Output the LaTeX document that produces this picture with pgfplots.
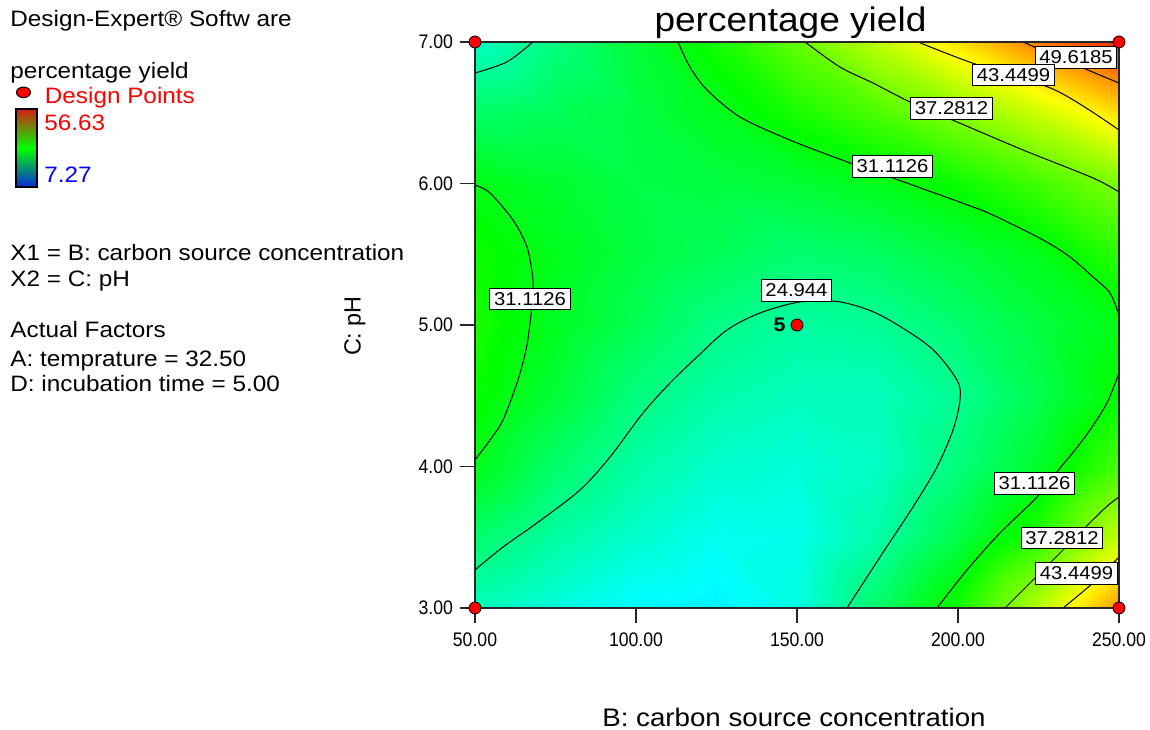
\documentclass[border=0pt]{standalone}
\usepackage{pgfplots}
\usepackage{pgfplotstable}
\pgfplotsset{compat=1.18}
\usepackage{fontspec}
\setmainfont{Liberation Sans}[FakeStretch=1.09]
\newfontfamily\tickfont{Liberation Sans}[FakeStretch=0.9]
\newfontfamily\plainfont{Liberation Sans}

\pgfplotstableread{
x y z
50 3.0 23.0
75 3.0 21.3
100 3.0 19.4
125 3.0 18.9
150 3.0 21.0
175 3.0 27.0
200 3.0 33.0
225 3.0 40.9
250 3.0 49.4
50 3.5 26.8
75 3.5 24.1
100 3.5 22.0
125 3.5 20.4
150 3.5 20.6
175 3.5 23.8
200 3.5 28.5
225 3.5 34.1
250 3.5 41.4
50 4.0 30.8
75 4.0 26.8
100 4.0 23.9
125 4.0 22.0
150 4.0 21.4
175 4.0 22.5
200 4.0 26.0
225 4.0 29.9
250 4.0 35.4
50 4.5 32.3
75 4.5 29.3
100 4.5 25.9
125 4.5 23.8
150 4.5 22.8
175 4.5 22.9
200 4.5 24.9
225 4.5 28.2
250 4.5 32.0
50 5.0 33.1
75 5.0 30.4
100 5.0 27.9
125 5.0 25.5
150 5.0 24.2
175 5.0 24.7
200 5.0 26.6
225 5.0 28.9
250 5.0 30.9
50 5.5 32.6
75 5.5 30.6
100 5.5 28.9
125 5.5 27.8
150 5.5 26.6
175 5.5 27.3
200 5.5 28.9
225 5.5 30.7
250 5.5 34.0
50 6.0 31.0
75 6.0 29.8
100 6.0 28.6
125 6.0 28.9
150 6.0 29.5
175 6.0 30.7
200 6.0 32.5
225 6.0 35.2
250 6.0 38.1
50 6.5 27.1
75 6.5 27.8
100 6.5 28.8
125 6.5 30.5
150 6.5 33.1
175 6.5 35.6
200 6.5 38.5
225 6.5 41.8
250 6.5 45.9
50 7.0 22.5
75 7.0 25.9
100 7.0 29.3
125 7.0 33.0
150 7.0 36.9
175 7.0 41.2
200 7.0 45.8
225 7.0 50.6
250 7.0 54.5
}\surfdata

\tikzset{clab/.style={draw=black, fill=white, line width=0.5pt, inner sep=2.1pt, font=\fontsize{9.3}{10}\selectfont}}

\begin{document}
\begin{tikzpicture}
\useasboundingbox (0pt,0pt) rectangle (575pt,364.5pt);
\begin{axis}[
  at={(237.5pt,60.5pt)}, anchor=south west,
  scale only axis, width=322pt, height=283pt,
  view={0}{90},
  xmin=50, xmax=250, ymin=3, ymax=7,
  clip=false,
  axis on top,
  xtick={50,100,150,200,250}, ytick={3,4,5,6,7}, ztick=\empty,
  tick pos=left,
  tick align=outside, major tick length=7.5pt,
  tick style={black!85, line width=0.6pt},
  axis line style={black!85, line width=0.7pt},
  ticklabel style={font=\tickfont\fontsize{9.8}{10}\selectfont},
  xticklabel style={yshift=-1.2pt},
  /pgf/number format/fixed,
  /pgf/number format/fixed zerofill,
  /pgf/number format/precision=2,
  /pgf/number format/assume math mode=true,
  colormap={de}{rgb255=(0,0,255) rgb255=(0,255,255) rgb255=(0,255,0) rgb255=(255,255,0) rgb255=(255,0,0)},
  point meta min=7.27, point meta max=56.63,
  legend style={at={(-0.71273,0.90366)}, anchor=west, draw=none, fill=none, inner sep=0pt, outer sep=0pt,
    column sep=0pt, nodes={inner sep=0pt, text=red, font=\fontsize{11.15}{13}\selectfont}},
  legend cell align=left,
]
\addplot3[surf, shader=interp, mesh/rows=9, mesh/cols=9, forget plot] table {\surfdata};

% contour lines
\addplot[black, line width=0.5pt, smooth, forget plot] coordinates {(50,6.781) (59.9,6.859) (68.0,7)};
\addplot[black, line width=0.5pt, smooth, forget plot] coordinates {(50,5.989) (54.66,5.933) (61.80,5.742) (66.15,5.551) (68.01,5.318) (67.70,5.141) (66.15,4.859) (63.35,4.611) (58.70,4.329) (54.66,4.187) (50,4.046)};
\addplot[black, line width=0.5pt, smooth, forget plot] coordinates {(50,3.269) (58.70,3.431) (69.25,3.601) (82.61,3.834) (91.93,4.067) (102.17,4.378) (110.56,4.590) (118.94,4.774) (128.26,4.965) (138.51,5.085) (150.93,5.163) (163.35,5.163) (175.78,5.071) (191.30,4.845) (199.69,4.611) (200.62,4.470) (198.45,4.258) (193.48,3.996) (186.02,3.714) (175.78,3.360) (165.53,3.0)};
\addplot[black, line width=0.5pt, smooth, forget plot] coordinates {(113.04,7) (116.77,6.823) (122.05,6.661) (132.30,6.470) (147.83,6.307) (166.46,6.145) (178.88,6.046) (202.17,5.855) (210.87,5.777) (226.40,5.601) (234.78,5.481) (241.93,5.339) (247.20,5.226) (250,5.071)};
\addplot[black, line width=0.5pt, smooth, forget plot] coordinates {(250,4.661) (246.27,4.449) (240.99,4.258) (236.34,4.117) (231.68,3.989) (224.53,3.784) (213.04,3.530) (202.80,3.269) (193.48,3.0)};
\addplot[black, line width=0.5pt, smooth, forget plot] coordinates {(152.48,7) (163.35,6.823) (173.60,6.710) (185.09,6.576) (197.52,6.456) (220.19,6.237) (241.93,6.039) (250,5.940)};
\addplot[black, line width=0.5pt, smooth, forget plot] coordinates {(214.60,3) (229.50,3.339) (245.03,3.693) (250,3.784)};
\addplot[black, line width=0.5pt, smooth, forget plot] coordinates {(187.58,7) (204.35,6.852) (230.12,6.661) (250,6.378)};
\addplot[black, line width=0.5pt, smooth, forget plot] coordinates {(232.61,3) (241.93,3.177) (250,3.360)};
\addplot[black, line width=0.5pt, smooth, forget plot] coordinates {(220.19,7) (234.78,6.855) (250,6.710)};

% contour labels
\node[clab] at (axis cs:236.65,6.890) {49.6185};
\node[clab] at (axis cs:217.24,6.767) {43.4499};
\node[clab] at (axis cs:197.98,6.530) {37.2812};
\node[clab] at (axis cs:179.66,6.120) {31.1126};
\node[clab] at (axis cs:67.08,5.184) {31.1126};
\node[clab] at (axis cs:149.84,5.244) {24.944};
\node[clab] at (axis cs:223.76,3.880) {31.1126};
\node[clab] at (axis cs:232.30,3.495) {37.2812};
\node[clab] at (axis cs:236.80,3.244) {43.4499};

% design points
\addplot[only marks, mark=*, mark size=3pt, mark options={fill=red, draw=black, line width=0.4pt},
  legend image code/.code={\draw[fill=red, draw=black, line width=0.5pt] (0pt,2.3pt) ellipse (3.5pt and 2.65pt); \path (-3.5pt,0pt) (10.5pt,0pt);}]
  coordinates {(50,3) (50,7) (250,3) (250,7) (150,5)};
\addlegendentry{Design Points}
\node[anchor=east, inner sep=0pt, xshift=-5.5pt, font=\bfseries\fontsize{9.8}{10}\selectfont] at (axis cs:150,5) {5};
\end{axis}

% title and axis labels
\node[anchor=base, inner sep=0pt, font=\fontsize{17}{20}\selectfont] at (395.25pt,348.5pt) {percentage yield};
\node[anchor=base, inner sep=0pt, font=\fontsize{12.7}{15}\selectfont] at (397pt,1.5pt) {B: carbon source concentration};
\node[rotate=90, inner sep=0pt, font=\plainfont\fontsize{11.7}{14}\selectfont] at (177.5pt,201.5pt) {C: pH};

% left panel
\begin{scope}[every node/.style={anchor=base west, inner sep=0pt, font=\fontsize{11.15}{13}\selectfont}]
\node at (5pt,351pt) {Design-Expert® Softw are};
\node at (5pt,325pt) {percentage yield};
\node[text=red] at (22pt,299pt) {56.63};
\node[text=blue] at (22pt,273pt) {7.27};
\node at (5pt,234pt) {X1 = B: carbon source concentration};
\node at (5pt,221pt) {X2 = C: pH};
\node at (5pt,195.5pt) {Actual Factors};
\node at (5pt,181.5pt) {A: temprature = 32.50};
\node at (5pt,169pt) {D: incubation time = 5.00};
\end{scope}
\shade[top color={rgb,255:red,210;green,30;blue,20}, bottom color={rgb,255:red,10;green,40;blue,220}, middle color={rgb,255:red,0;green,255;blue,0}] (8pt,271pt) rectangle (18.5pt,310pt);
\draw[black, line width=1pt] (8pt,271pt) rectangle (18.5pt,310pt);
\end{tikzpicture}
\end{document}
